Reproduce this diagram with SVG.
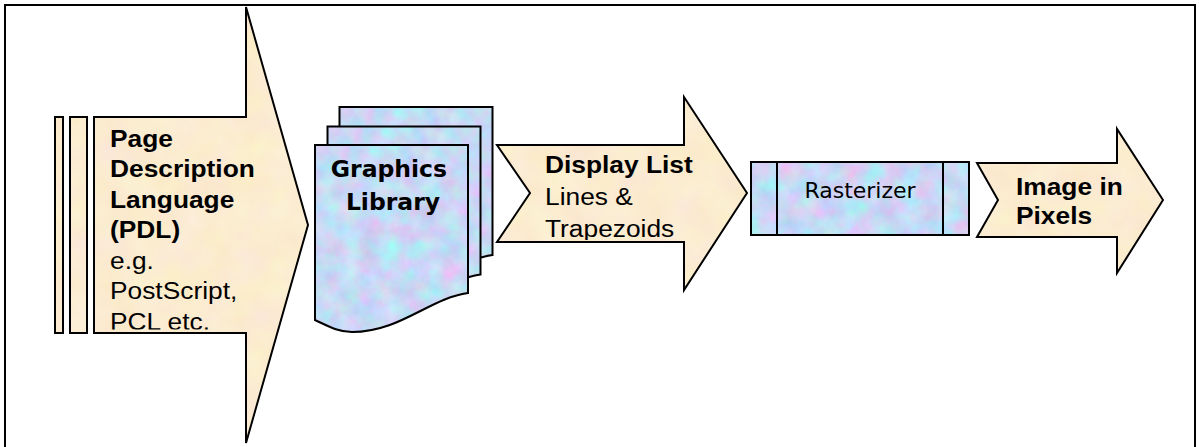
<svg xmlns="http://www.w3.org/2000/svg" width="1199" height="447" viewBox="0 0 1199 447">
  <style>
    .edge { stroke: #000; stroke-width: 2; stroke-linejoin: miter; fill: none; }
    .beige { fill: #FAECD3; filter: url(#parchment); }
    .blue { fill: #C8DAF3; filter: url(#tissue); }
    .lbl { font-family: "Liberation Sans", Arial, sans-serif; font-size: 23.3px; fill: #000; }
    .b { font-weight: bold; }
    .tah { font-family: "DejaVu Sans", Verdana, Tahoma, sans-serif; fill: #000; }
  </style>
  <defs>
    <!-- mottled tissue-paper fill for the blue shapes -->
    <filter id="tissue" x="-5%" y="-5%" width="110%" height="110%" color-interpolation-filters="sRGB">
      <feTurbulence type="fractalNoise" baseFrequency="0.05" numOctaves="4" seed="7" result="noise"/>
      <feColorMatrix in="noise" type="matrix" values="0.32 -0.16 0 0 0.70  -0.1 0.26 0 0 0.77  0 0 0.12 0 0.90  0 0 0 0 1" result="tint"/>
      <feComposite in="tint" in2="SourceGraphic" operator="in"/>
    </filter>
    <!-- faint parchment grain for the beige arrows -->
    <filter id="parchment" x="-5%" y="-5%" width="110%" height="110%" color-interpolation-filters="sRGB">
      <feTurbulence type="fractalNoise" baseFrequency="0.03" numOctaves="3" seed="3" result="noise"/>
      <feColorMatrix in="noise" type="matrix" values="0 0 0 0 0.985  0 0.06 0 0 0.895  0 0 0.1 0 0.765  0 0 0 0 1" result="tint"/>
      <feComposite in="tint" in2="SourceGraphic" operator="in"/>
    </filter>
    <path id="doc" d="M315,145 H468 V293 C430,298 400,332 352,332 C338,332 328,326 315,320 Z"/>
    <polygon id="pdlArrow" points="94,117 246,117 246,7 308,225 246,443 246,333 94,333"/>
    <polygon id="dlArrow" points="497,145 684,145 684,97 747,193 684,290 684,242 497,242 530,193"/>
    <polygon id="imgArrow" points="977,163 1117,163 1117,129 1163,200 1117,273 1117,237 977,237 998,200"/>
    <clipPath id="pdlClip"><rect x="95" y="118" width="200" height="211.5"/></clipPath>
    <clipPath id="dlClip"><rect x="498" y="146" width="200" height="94"/></clipPath>
  </defs>

  <rect id="frame" x="5" y="5" width="1190" height="470" fill="#fff" stroke="#000" stroke-width="2"/>

  <g id="pdl">
    <rect x="55" y="117" width="8" height="216" class="beige"/>
    <rect x="55" y="117" width="8" height="216" class="edge"/>
    <rect x="70" y="117" width="17" height="216" class="beige"/>
    <rect x="70" y="117" width="17" height="216" class="edge"/>
    <use href="#pdlArrow" class="beige"/>
    <use href="#pdlArrow" class="edge"/>
    <g clip-path="url(#pdlClip)">
      <text class="lbl" transform="translate(110 0) scale(1.13 1)">
        <tspan class="b" x="0" y="147">Page</tspan>
        <tspan class="b" x="0" y="177.5">Description</tspan>
        <tspan class="b" x="0" y="208">Language</tspan>
        <tspan class="b" x="0" y="238.5">(PDL)</tspan>
        <tspan x="0" y="269">e.g.</tspan>
        <tspan x="0" y="299.5">PostScript,</tspan>
        <tspan x="0" y="330">PCL etc.</tspan>
      </text>
    </g>
  </g>

  <g id="graphics-library">
    <use href="#doc" transform="translate(24.5,-38)" class="blue"/>
    <use href="#doc" transform="translate(24.5,-38)" class="edge"/>
    <use href="#doc" transform="translate(12.5,-18.5)" class="blue"/>
    <use href="#doc" transform="translate(12.5,-18.5)" class="edge"/>
    <use href="#doc" class="blue"/>
    <use href="#doc" class="edge"/>
    <text class="tah b" font-size="23.5" text-anchor="middle">
      <tspan x="393" y="177">Graphics</tspan>
      <tspan x="393" y="210">Library</tspan>
    </text>
  </g>

  <g id="display-list">
    <use href="#dlArrow" class="beige"/>
    <use href="#dlArrow" class="edge"/>
    <g clip-path="url(#dlClip)">
      <text class="lbl" transform="translate(545 0) scale(1.13 1)">
        <tspan class="b" x="0" y="173">Display List</tspan>
        <tspan x="0" y="205">Lines &amp;</tspan>
        <tspan x="0" y="237.5">Trapezoids</tspan>
      </text>
    </g>
  </g>

  <g id="rasterizer">
    <rect x="751" y="162" width="218" height="73" class="blue"/>
    <rect x="751" y="162" width="218" height="73" class="edge"/>
    <line x1="777" y1="162" x2="777" y2="235" class="edge"/>
    <line x1="943" y1="162" x2="943" y2="235" class="edge"/>
    <text class="tah" font-size="22" x="860" y="198" text-anchor="middle">Rasterizer</text>
  </g>

  <g id="image-in-pixels">
    <use href="#imgArrow" class="beige"/>
    <use href="#imgArrow" class="edge"/>
    <text class="lbl b" transform="translate(1016 0) scale(1.13 1)">
      <tspan x="0" y="195">Image in</tspan>
      <tspan x="0" y="224">Pixels</tspan>
    </text>
  </g>

  <g id="connectors"/>
</svg>
